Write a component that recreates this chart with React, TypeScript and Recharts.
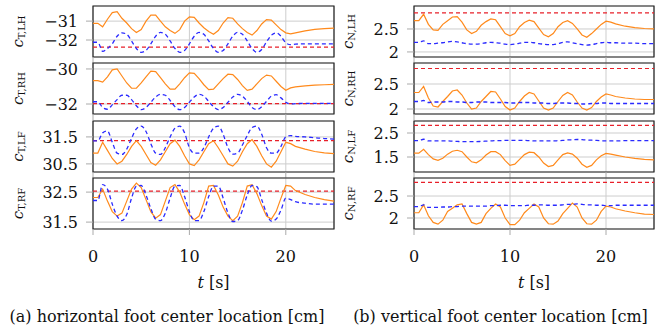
import React from "react";
import { LineChart, Line, XAxis, YAxis, CartesianGrid, ReferenceLine, ReferenceArea } from "recharts";

const FONT = "'DejaVu Serif', serif";

// time samples [s]
const time = [
  0, 0.5, 1, 1.5, 2, 2.5, 3, 3.5, 4, 4.5,
  5, 5.5, 6, 6.5, 7, 7.5, 8, 8.5, 9, 9.5,
  10, 10.5, 11, 11.5, 12, 12.5, 13, 13.5, 14, 14.5,
  15, 15.5, 16, 16.5, 17, 17.5, 18, 18.5, 19, 19.5,
  20, 20.5, 21, 22, 23, 24, 25,
];

// horizontal foot center (actual / commanded)
const cTLH = [
  -31.12, -31.12, -31.3, -30.9, -30.55, -30.5, -30.85, -31.1, -31.4, -31.6,
  -31.45, -31.0, -30.68, -30.68, -31.0, -31.3, -31.5, -31.65, -31.45, -31.0,
  -30.78, -30.8, -31.1, -31.35, -31.55, -31.7, -31.5, -31.1, -30.82, -30.85,
  -31.15, -31.4, -31.6, -31.74, -31.5, -31.15, -30.92, -30.95, -31.2, -31.45,
  -31.62, -31.67, -31.62, -31.52, -31.44, -31.4, -31.37,
];
const cTLHcmd = [
  -32.12, -32.12, -32.6, -32.45, -32.2, -31.8, -31.62, -31.7, -32.05, -32.45,
  -32.65, -32.55, -32.2, -31.8, -31.6, -31.7, -32.05, -32.45, -32.65, -32.55,
  -32.2, -31.8, -31.6, -31.7, -32.05, -32.45, -32.65, -32.55, -32.2, -31.8,
  -31.6, -31.7, -32.05, -32.45, -32.65, -32.5, -32.1, -31.75, -31.62, -31.8,
  -32.15, -32.25, -32.22, -32.2, -32.2, -32.2, -32.2,
];
const cTRH = [
  -30.67, -30.67, -30.75, -30.45, -30.05, -30.0, -30.4, -30.8, -31.1, -31.1,
  -30.8, -30.45, -30.12, -30.15, -30.5, -30.85, -31.15, -31.15, -30.85, -30.5,
  -30.22, -30.25, -30.55, -30.9, -31.18, -31.15, -30.85, -30.55, -30.3, -30.32,
  -30.6, -30.95, -31.22, -31.15, -30.85, -30.55, -30.35, -30.4, -30.7, -31.0,
  -31.22, -31.08, -31.02, -30.96, -30.92, -30.9, -30.88,
];
const cTRHcmd = [
  -31.87, -31.87, -32.2, -32.3, -32.05, -31.75, -31.5, -31.5, -31.75, -32.1,
  -32.32, -32.2, -31.9, -31.6, -31.45, -31.5, -31.8, -32.15, -32.32, -32.2,
  -31.9, -31.6, -31.45, -31.55, -31.85, -32.15, -32.32, -32.2, -31.9, -31.6,
  -31.45, -31.55, -31.85, -32.2, -32.32, -32.15, -31.85, -31.55, -31.47, -31.65,
  -31.9, -32.0, -31.98, -31.96, -31.96, -31.96, -31.96,
];
const cTLF = [
  30.9, 30.9, 31.3, 31.0, 30.7, 30.5, 30.6, 30.85, 31.15, 31.36,
  31.15, 30.85, 30.55, 30.45, 30.65, 30.95, 31.25, 31.38, 31.15, 30.8,
  30.5, 30.44, 30.65, 30.95, 31.25, 31.36, 31.1, 30.8, 30.5, 30.42,
  30.6, 30.95, 31.25, 31.4, 31.15, 30.8, 30.5, 30.38, 30.6, 30.95,
  31.3, 31.25, 31.15, 31.05, 30.96, 30.91, 30.88,
];
const cTLFcmd = [
  31.35, 31.35, 31.65, 31.72, 31.3, 30.9, 30.85, 31.05, 31.45, 31.8,
  31.9, 31.7, 31.25, 30.9, 30.85, 31.1, 31.5, 31.82, 31.9, 31.65,
  31.1, 30.9, 30.9, 31.1, 31.5, 31.82, 31.9, 31.6, 31.1, 30.86,
  30.9, 31.2, 31.55, 31.85, 31.9, 31.6, 31.1, 30.9, 30.9, 31.15,
  31.5, 31.55, 31.52, 31.5, 31.47, 31.44, 31.42,
];
const cTRF = [
  32.32, 32.32, 32.6, 32.2, 31.85, 31.7, 31.8, 32.2, 32.6, 32.8,
  32.65, 32.25, 31.85, 31.63, 31.75, 32.2, 32.65, 32.75, 32.5, 32.1,
  31.75, 31.58, 31.7, 32.15, 32.7, 32.72, 32.4, 32.0, 31.7, 31.55,
  31.7, 32.15, 32.7, 32.75, 32.45, 32.05, 31.7, 31.6, 31.85, 32.3,
  32.72, 32.7, 32.55, 32.42, 32.32, 32.25, 32.2,
];
const cTRFcmd = [
  32.22, 32.22, 32.75, 32.6, 32.1, 31.7, 31.55, 31.75, 32.3, 32.7,
  32.72, 32.4, 31.95, 31.6, 31.55, 31.8, 32.3, 32.7, 32.72, 32.35,
  31.85, 31.55, 31.55, 31.85, 32.35, 32.7, 32.7, 32.3, 31.8, 31.52,
  31.55, 31.9, 32.4, 32.72, 32.68, 32.25, 31.8, 31.53, 31.6, 31.9,
  32.3, 32.25, 32.18, 32.13, 32.1, 32.1, 32.1,
];

// vertical foot center (actual / commanded)
const cNLH = [
  2.68, 2.68, 2.82, 2.6, 2.48, 2.47, 2.6, 2.68, 2.76, 2.77,
  2.65, 2.48, 2.4, 2.45, 2.58, 2.66, 2.72, 2.7, 2.55, 2.4,
  2.35, 2.4, 2.55, 2.64, 2.69, 2.66, 2.52, 2.38, 2.33, 2.4,
  2.55, 2.64, 2.68, 2.62, 2.5, 2.37, 2.32, 2.4, 2.5, 2.6,
  2.67, 2.65, 2.61, 2.56, 2.53, 2.51, 2.5,
];
const cNLHcmd = [
  2.21, 2.21, 2.24, 2.18, 2.18, 2.19, 2.2, 2.22, 2.23, 2.22,
  2.2, 2.18, 2.17, 2.17, 2.18, 2.2, 2.21, 2.2, 2.19, 2.17,
  2.16, 2.17, 2.19, 2.21, 2.21, 2.2, 2.18, 2.17, 2.16, 2.16,
  2.18, 2.21, 2.22, 2.2, 2.18, 2.16, 2.15, 2.16, 2.18, 2.2,
  2.21, 2.2, 2.2, 2.19, 2.19, 2.18, 2.18,
];
const cNRH = [
  2.33, 2.33, 2.45, 2.22, 2.06, 2.04, 2.15, 2.25, 2.36, 2.38,
  2.28, 2.12, 2.0, 2.02, 2.15, 2.25, 2.35, 2.34, 2.2, 2.05,
  1.98, 2.02, 2.15, 2.26, 2.33, 2.3, 2.16, 2.02, 1.98, 2.02,
  2.15, 2.27, 2.33, 2.28, 2.14, 2.02, 1.98, 2.03, 2.15, 2.24,
  2.3, 2.28, 2.25, 2.22, 2.2, 2.19, 2.19,
];
const cNRHcmd = [
  2.15, 2.15, 2.17, 2.13, 2.14, 2.14, 2.14, 2.15, 2.15, 2.14,
  2.14, 2.13, 2.13, 2.14, 2.14, 2.14, 2.13, 2.13, 2.13, 2.13,
  2.12, 2.12, 2.13, 2.13, 2.13, 2.12, 2.12, 2.12, 2.11, 2.11,
  2.12, 2.12, 2.12, 2.11, 2.11, 2.1, 2.1, 2.11, 2.11, 2.12,
  2.12, 2.11, 2.11, 2.11, 2.11, 2.11, 2.11,
];
const cNLF = [
  1.66, 1.66, 1.82, 1.6, 1.42, 1.36, 1.45, 1.62, 1.74, 1.78,
  1.72, 1.5, 1.3, 1.26, 1.38, 1.58, 1.72, 1.72, 1.6, 1.35,
  1.15, 1.2, 1.4, 1.6, 1.7, 1.68, 1.5, 1.25, 1.1, 1.15,
  1.38, 1.6, 1.67, 1.62, 1.45, 1.2, 1.07, 1.15, 1.38, 1.55,
  1.65, 1.62, 1.58, 1.5, 1.44, 1.4, 1.38,
];
const cNLFcmd = [
  2.18, 2.18, 2.24, 2.17, 2.17, 2.17, 2.17, 2.17, 2.16, 2.15,
  2.14, 2.14, 2.14, 2.14, 2.15, 2.16, 2.17, 2.18, 2.18, 2.19,
  2.19, 2.19, 2.19, 2.19, 2.18, 2.17, 2.17, 2.17, 2.17, 2.17,
  2.18, 2.19, 2.21, 2.22, 2.23, 2.22, 2.21, 2.2, 2.19, 2.18,
  2.17, 2.17, 2.17, 2.18, 2.18, 2.18, 2.18,
];
const cNRF = [
  2.12, 2.12, 2.3, 2.05, 1.9, 1.86, 1.95, 2.15, 2.22, 2.3,
  2.32, 2.1, 1.9, 1.86, 1.9, 2.1, 2.22, 2.32, 2.25, 2.0,
  1.85, 1.85, 1.95, 2.12, 2.22, 2.32, 2.25, 2.0, 1.87, 1.86,
  1.93, 2.1, 2.22, 2.34, 2.25, 2.0, 1.87, 1.86, 1.95, 2.15,
  2.27, 2.25, 2.21, 2.16, 2.12, 2.09, 2.08,
];
const cNRFcmd = [
  2.26, 2.26, 2.3, 2.24, 2.24, 2.24, 2.25, 2.25, 2.26, 2.26,
  2.27, 2.27, 2.27, 2.27, 2.27, 2.27, 2.28, 2.28, 2.29, 2.29,
  2.28, 2.28, 2.28, 2.28, 2.29, 2.29, 2.3, 2.3, 2.29, 2.29,
  2.29, 2.3, 2.31, 2.31, 2.32, 2.31, 2.3, 2.3, 2.29, 2.29,
  2.28, 2.28, 2.29, 2.29, 2.29, 2.29, 2.29,
];

// limits (red dashed)
const limT = [-32.38, -31.98, 31.36, 32.53];
const limN = [2.85, 2.81, 2.82, 2.81];

const xTicks = [0, 10, 20];
const ticksT = [[-32, -31], [-32, -30], [30.5, 31.5], [31.5, 32.5]];
const ticksN = [[2, 2.5], [2, 2.5], [1.5, 2.5], [2, 2.5]];
const domT: [number, number][] = [[-32.9, -30.2], [-32.57, -29.66], [30.2, 32.09], [31.27, 32.97]];
const domN: [number, number][] = [[1.89, 3.0], [1.9, 2.92], [0.875, 3.0], [1.75, 2.91]];
const subsT = ["T,LH", "T,RH", "T,LF", "T,RF"];
const subsN = ["N,LH", "N,RH", "N,LF", "N,RF"];
const actT = [cTLH, cTRH, cTLF, cTRF];
const cmdT = [cTLHcmd, cTRHcmd, cTLFcmd, cTRFcmd];
const actN = [cNLH, cNRH, cNLF, cNRF];
const cmdN = [cNLHcmd, cNRHcmd, cNLFcmd, cNRFcmd];

const rowTops = [6, 63, 121, 178];
const PLOT_H = 51;
const PAD = 6;

const fmt = (v: number) => (v < 0 ? "\u2212" + Math.abs(v) : String(v));
const tickStyle = { fontSize: 16, fill: "#111", fontFamily: FONT };

function Panel({ left, top, axisW, plotW, act, cmd, lim, domain, ticks, bottom }: any) {
  const rows = time.map((t, i) => ({ t, act: act[i], cmd: cmd[i] }));
  const xH = bottom ? 50 : 6;
  return (
    <div style={{ position: "absolute", left, top: top - PAD }}>
      <LineChart
        width={axisW + plotW + 2}
        height={PLOT_H + PAD + xH}
        data={rows}
        margin={{ top: PAD, right: 2, left: 0, bottom: 0 }}
      >
        <CartesianGrid stroke="#cdcdcd" strokeWidth={1} />
        <XAxis
          dataKey="t"
          type="number"
          domain={[0, 25]}
          ticks={xTicks}
          interval={0}
          allowDataOverflow
          axisLine={false}
          tickLine={{ stroke: "#aaa" }}
          tickSize={6}
          tickMargin={bottom ? 16 : 0}
          height={xH}
          tick={tickStyle}
          tickFormatter={bottom ? (v: number) => String(v) : () => ""}
        />
        <YAxis
          type="number"
          domain={domain}
          ticks={ticks}
          interval={0}
          allowDataOverflow
          width={axisW}
          axisLine={false}
          tickLine={{ stroke: "#aaa" }}
          tickSize={7}
          tickMargin={8}
          tick={tickStyle}
          tickFormatter={fmt}
        />
        <ReferenceLine y={lim} stroke="#e8202a" strokeWidth={1.2} strokeDasharray="4 3" />
        <Line type="linear" dataKey="act" stroke="#ff8a1c" strokeWidth={1.2} dot={false} isAnimationActive={false} />
        <Line type="monotone" dataKey="cmd" stroke="#2a2aff" strokeWidth={1.3} strokeDasharray="4 3" dot={false} isAnimationActive={false} />
        <ReferenceArea x1={0} x2={25} y1={domain[0]} y2={domain[1]} fill="none" stroke="#222" strokeWidth={1.2} ifOverflow="visible" />
      </LineChart>
    </div>
  );
}

function YLabel({ cx, cy, sub }: { cx: number; cy: number; sub: string }) {
  return (
    <text x={cx} y={cy} transform={`rotate(-90 ${cx} ${cy})`} textAnchor="middle" fontFamily={FONT} fill="#111">
      <tspan fontStyle="italic" fontSize={15}>c</tspan>
      <tspan fontSize={10} dy={2}>{sub}</tspan>
    </text>
  );
}

export default function App() {
  return (
    <div style={{ position: "absolute", left: 0, top: 0, width: 667, height: 330, background: "#fff", fontFamily: FONT, color: "#111" }}>
      {rowTops.map((top, i) => (
        <Panel key={"T" + i} left={0} top={top} axisW={93} plotW={241} act={actT[i]} cmd={cmdT[i]} lim={limT[i]} domain={domT[i]} ticks={ticksT[i]} bottom={i === 3} />
      ))}
      {rowTops.map((top, i) => (
        <Panel key={"N" + i} left={340} top={top} axisW={74} plotW={240} act={actN[i]} cmd={cmdN[i]} lim={limN[i]} domain={domN[i]} ticks={ticksN[i]} bottom={i === 3} />
      ))}
      <svg width={667} height={330} style={{ position: "absolute", left: 0, top: 0, pointerEvents: "none" }}>
        {rowTops.map((top, i) => (
          <YLabel key={"lt" + i} cx={23} cy={top + PLOT_H / 2} sub={subsT[i]} />
        ))}
        {rowTops.map((top, i) => (
          <YLabel key={"ln" + i} cx={353} cy={top + PLOT_H / 2} sub={subsN[i]} />
        ))}
      </svg>
      <div style={{ position: "absolute", left: 93, width: 241, top: 273, textAlign: "center", fontSize: 16 }}>
        <i>t</i> [s]
      </div>
      <div style={{ position: "absolute", left: 414, width: 240, top: 273, textAlign: "center", fontSize: 16 }}>
        <i>t</i> [s]
      </div>
      <div style={{ position: "absolute", left: 0, width: 334, top: 307, textAlign: "center", fontSize: 16, whiteSpace: "nowrap" }}>
        (a) horizontal foot center location [cm]
      </div>
      <div style={{ position: "absolute", left: 334, width: 333, top: 307, textAlign: "center", fontSize: 16, whiteSpace: "nowrap" }}>
        (b) vertical foot center location [cm]
      </div>
    </div>
  );
}
